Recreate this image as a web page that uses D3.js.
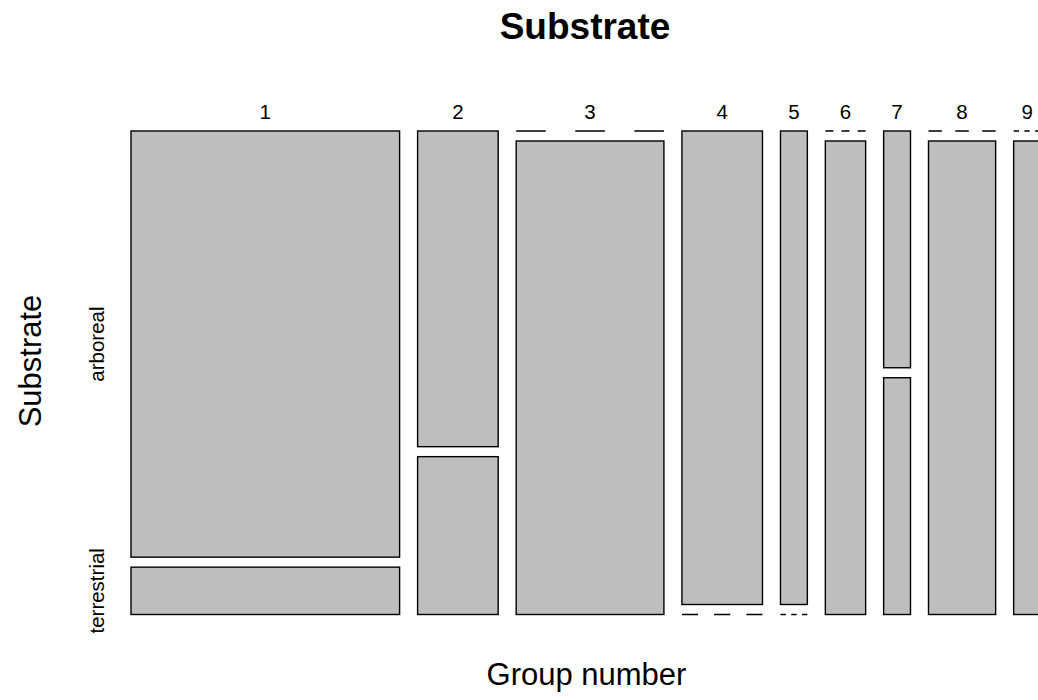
<!DOCTYPE html>
<html><head><meta charset="utf-8">
<script src="https://cdn.jsdelivr.net/npm/d3@7"></script>
<style>body{margin:0;background:#fff;}svg{display:block;font-family:"Liberation Sans",Arial,sans-serif;}</style>
</head><body>
<svg id="c" width="1038" height="700"></svg>
<script>
const groups = ["1","2","3","4","5","6","7","8","9"];
const arboreal = [18, 4, 0, 6, 2, 0, 1, 0, 0];
const terrestrial = [2, 2, 11, 0, 0, 3, 1, 5, 2];
const substrates = ["arboreal", "terrestrial"];

(function () {
const svg = d3.select("#c");
const mLeft = 131, mTop = 131, mBottom = 614.5;
const gapX = 18, gapY = 10;
const totals = groups.map((g, i) => arboreal[i] + terrestrial[i]);
const unit = 13.43;
const x = d3.scaleLinear().domain([0, 1]).range([0, unit]);
let xs = [], cx = mLeft;
totals.forEach(t => { xs.push([cx, cx + x(t)]); cx += x(t) + gapX; });
const y = d3.scaleLinear().domain([0, 1]).range([mTop, mBottom - gapY]);

const g = svg.append("g");
groups.forEach((grp, i) => {
  const [x0, x1] = xs[i];
  const w = x1 - x0;
  const n = totals[i];
  const pa = arboreal[i] / n;
  const yA0 = y(0), yA1 = y(pa);
  const yT0 = y(pa) + gapY, yT1 = mBottom;
  const dash = (w / 5).toFixed(2);
  if (arboreal[i] > 0) {
    g.append("rect").attr("x", x0).attr("y", yA0).attr("width", w).attr("height", yA1 - yA0)
      .attr("fill", "#bebebe").attr("stroke", "#000").attr("stroke-width", 1.4);
  } else {
    g.append("line").attr("x1", x0).attr("x2", x1).attr("y1", yA0).attr("y2", yA0)
      .attr("stroke", "#000").attr("stroke-width", 1.6).attr("stroke-dasharray", dash + " " + dash);
  }
  if (terrestrial[i] > 0) {
    g.append("rect").attr("x", x0).attr("y", yT0).attr("width", w).attr("height", yT1 - yT0)
      .attr("fill", "#bebebe").attr("stroke", "#000").attr("stroke-width", 1.4);
  } else {
    g.append("line").attr("x1", x0).attr("x2", x1).attr("y1", mBottom).attr("y2", mBottom)
      .attr("stroke", "#000").attr("stroke-width", 1.6).attr("stroke-dasharray", dash + " " + dash);
  }
  svg.append("text").attr("x", (x0 + x1) / 2).attr("y", 119).attr("text-anchor", "middle")
    .attr("font-size", 20.5).text(grp);
});

const pa0 = arboreal[0] / totals[0];
const ymidA = (y(0) + y(pa0)) / 2;
const ymidT = (y(pa0) + gapY + mBottom) / 2;
[[substrates[0], ymidA], [substrates[1], ymidT]].forEach(([t, yy]) => {
  svg.append("text").attr("transform", `translate(104,${yy}) rotate(-90)`)
    .attr("text-anchor", "middle").attr("font-size", 20.5).text(t);
});

svg.append("text").attr("x", 585).attr("y", 39).attr("text-anchor", "middle")
  .attr("font-size", 37).attr("font-weight", "bold").text("Substrate");
svg.append("text").attr("x", 586.5).attr("y", 685).attr("text-anchor", "middle")
  .attr("font-size", 31).text("Group number");
svg.append("text").attr("transform", `translate(41,361) rotate(-90)`)
  .attr("text-anchor", "middle").attr("font-size", 31).text("Substrate");
})();
</script>
</body></html>
